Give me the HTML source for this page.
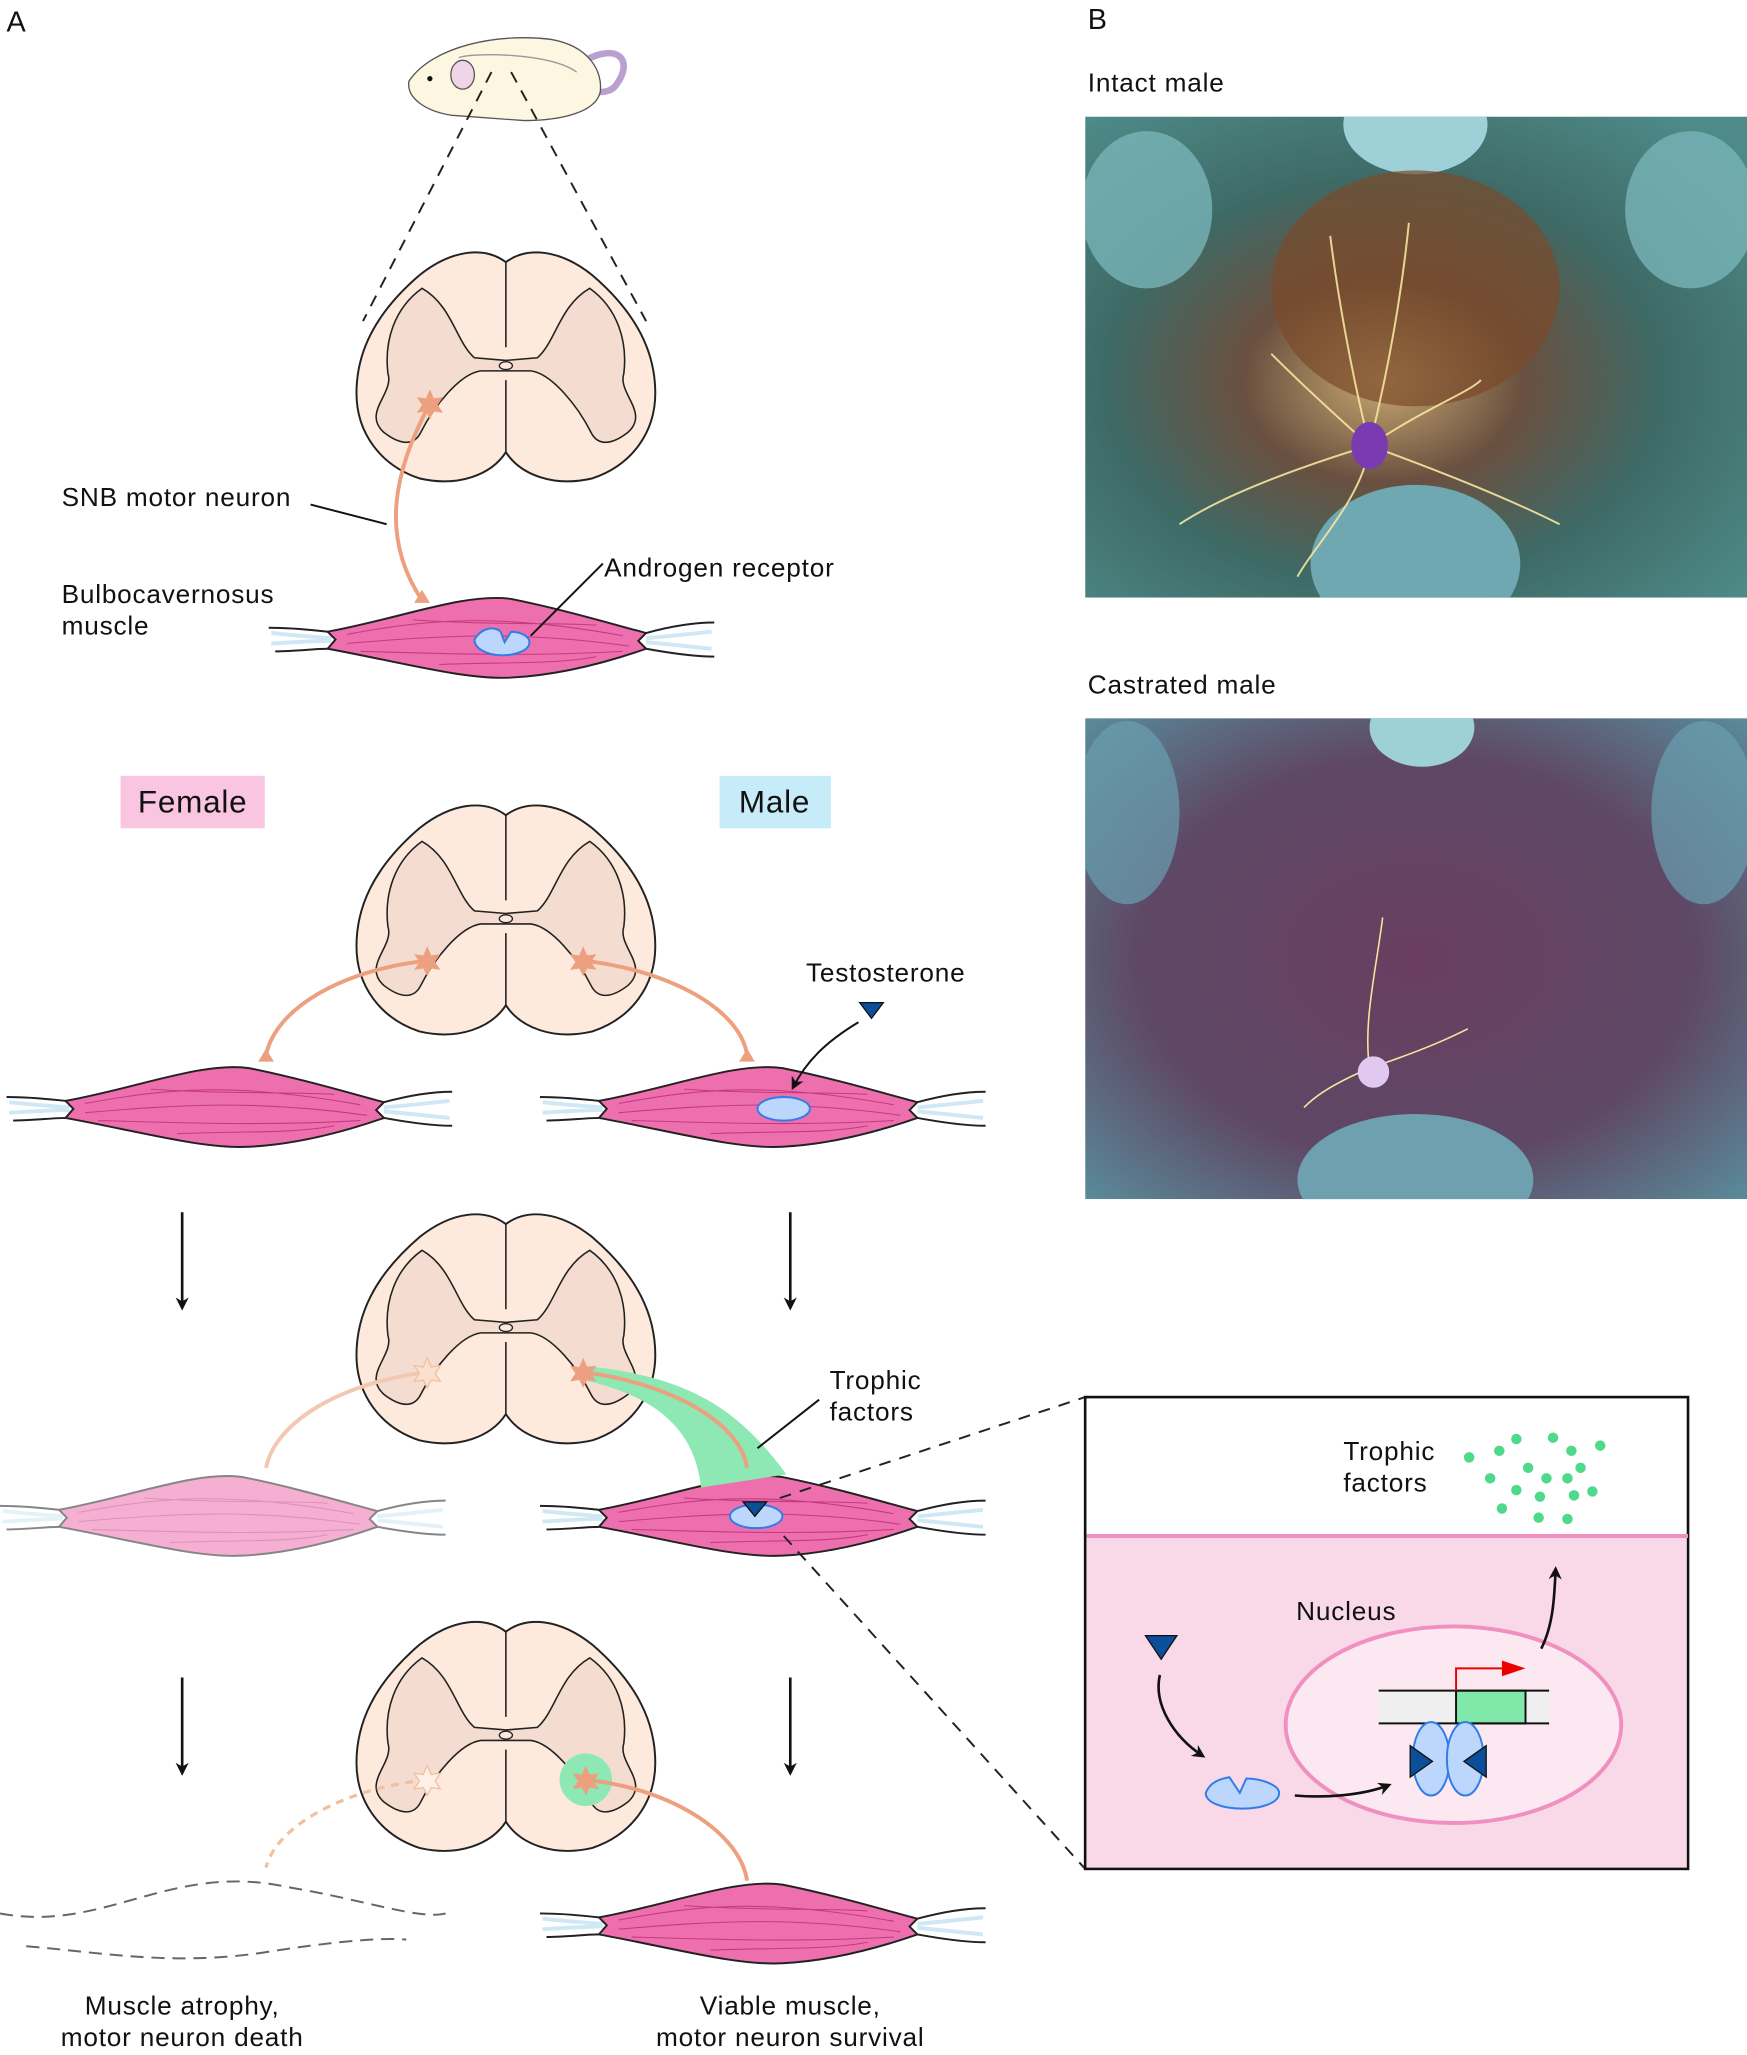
<!DOCTYPE html>
<html><head><meta charset="utf-8"><style>
html,body{margin:0;padding:0;background:#fff}
svg{display:block}
text{font-family:"Liberation Sans",sans-serif;fill:#111;letter-spacing:0.6px}
</style></head><body>
<svg width="1747" height="2055" viewBox="0 0 1333 1568" xmlns="http://www.w3.org/2000/svg">
<defs>
<clipPath id="c1"><rect x="828" y="89" width="505" height="367"/></clipPath>
<clipPath id="c2"><rect x="828" y="548" width="505" height="367"/></clipPath>
<g id="cord">
<path d="M0,7 C-16,-5 -41,-3 -66,17 C-101,47 -114,77 -114,107 C-114,137 -96,162 -66,172 C-36,179 -11,169 0,152 C11,169 36,179 66,172 C96,162 114,137 114,107 C114,77 101,47 66,17 C41,-3 16,-5 0,7Z" fill="#fdeadd" stroke="#222" stroke-width="1.5"/>
<path d="M-64,27 C-41,40 -38,68 -24,80 L0,82 L24,80 C38,68 41,40 64,27 C85,42 93,67 90,92 C85,107 110,122 93,137 C80,147 70,147 65,137 C55,117 35,92 19,90 L0,90 L-19,90 C-35,92 -55,117 -65,137 C-70,147 -80,147 -93,137 C-110,122 -85,107 -90,92 C-93,67 -85,42 -64,27Z" fill="#f4ddd0" stroke="#222" stroke-width="1.2"/>
<path d="M0,7 L0,72 M0,97 L0,152" stroke="#222" stroke-width="1.2"/>
<ellipse cx="0" cy="86" rx="5" ry="3" fill="#fdeadd" stroke="#222"/>
</g>
<g id="muscle">
<path d="M-168,-4 C-150,-2 -135,-1 -122,0 M-168,4 C-150,3 -135,2 -122,2 M118,0 C140,-2 158,-4 168,-5 M118,3 C140,5 158,7 168,8" stroke="#cfe8f4" stroke-width="3" fill="none"/>
<path d="M-170,-8 C-150,-8 -135,-6 -125,-5 M-165,10 C-150,10 -135,8 -125,8 M118,-4 C140,-10 158,-12 170,-12 M118,8 C140,12 158,14 170,14" stroke="#222" stroke-width="1.5" fill="none"/>
<path d="M-125,-5 C-70,-15 -20,-35 15,-30 C55,-22 95,-10 118,-4 L112,2 L118,8 C95,16 55,28 15,30 C-20,32 -70,18 -125,8 L-119,1Z" fill="#ee6fae" stroke="#222" stroke-width="1.5"/>
<path d="M-110,-3 C-50,-14 0,-20 100,-2 M-110,4 C-40,-2 20,-6 105,6 M-100,10 C-30,12 30,14 100,10 M-60,-14 C0,-10 50,-12 80,-10 M-40,20 C10,18 50,20 80,14" stroke="#c43a82" stroke-width="0.8" fill="none"/>
</g>
<g id="star"><path d="M0,-11 L3,-4 L10,-5 L6,1 L10,7 L3,6 L0,12 L-3,6 L-10,7 L-6,1 L-10,-5 L-3,-4Z"/></g>
<radialGradient id="p1" cx="0.45" cy="0.55" r="0.7"><stop offset="0" stop-color="#c8a870"/><stop offset="0.3" stop-color="#6a5040"/><stop offset="0.6" stop-color="#3e6a66"/><stop offset="1" stop-color="#4e8a88"/></radialGradient>
<radialGradient id="p2" cx="0.5" cy="0.5" r="0.7"><stop offset="0" stop-color="#6a3e60"/><stop offset="0.6" stop-color="#5e4866"/><stop offset="1" stop-color="#5a8a98"/></radialGradient>
<marker id="ah" markerWidth="10" markerHeight="10" refX="8" refY="5" orient="auto" markerUnits="userSpaceOnUse"><path d="M0,0 L10,5 L0,10 L3,5Z" fill="#111"/></marker>
</defs>

<text x="5" y="24" font-size="22">A</text>
<text x="830" y="22" font-size="22">B</text>

<g>
<path d="M440,50 C470,30 485,45 470,65 C465,72 455,70 450,70" stroke="#b9a0cf" stroke-width="5" fill="none"/>
<path d="M312,62 C330,35 380,25 420,30 C450,35 460,55 458,70 C455,85 430,92 400,92 L345,88 C325,85 310,75 312,62Z" fill="#fdf6e0" stroke="#555" stroke-width="1"/>
<ellipse cx="353" cy="57" rx="9" ry="11" fill="#efd5e8" stroke="#555"/>
<path d="M350,44 C360,40 420,40 440,55" stroke="#999" fill="none"/>
<circle cx="328" cy="60" r="2" fill="#111"/>
</g>
<path d="M375,55 L277,245 M390,55 L493,245" stroke="#222" stroke-width="1.5" stroke-dasharray="9,7"/>

<use href="#cord" x="386" y="193"/>
<use href="#muscle" x="375" y="487"/>
<path d="M328,308 C300,360 290,410 322,458" stroke="#eda07f" stroke-width="3" fill="none"/>
<use href="#star" x="328" y="308" fill="#eda07f"/>
<path d="M316,460 L322,450 L328,460Z" fill="#eda07f"/>
<path d="M362,488 C368,478 378,478 382,482 L385,490 L390,482 C398,482 404,486 404,490 C404,496 394,500 383,500 C370,500 362,494 362,488Z" fill="#bcd7fb" stroke="#2e7de8" stroke-width="1.5"/>
<text x="47" y="386" font-size="20">SNB motor neuron</text>
<path d="M237,385 L295,400" stroke="#111" stroke-width="1.5"/>
<text x="47" y="460" font-size="20">Bulbocavernosus</text>
<text x="47" y="484" font-size="20">muscle</text>
<text x="461" y="440" font-size="20">Androgen receptor</text>
<path d="M460,430 L405,485" stroke="#111" stroke-width="1.5"/>

<rect x="92" y="592" width="110" height="40" fill="#f9c5e0"/>
<text x="147" y="620" font-size="24" text-anchor="middle">Female</text>
<rect x="549" y="592" width="85" height="40" fill="#c6ecf9"/>
<text x="591" y="620" font-size="24" text-anchor="middle">Male</text>
<use href="#cord" x="386" y="615"/>
<use href="#muscle" x="175" y="845"/>
<use href="#muscle" x="582" y="845"/>
<path d="M326,733 C260,740 210,770 203,805" stroke="#eda07f" stroke-width="3" fill="none"/>
<path d="M445,733 C510,740 565,770 570,805" stroke="#eda07f" stroke-width="3" fill="none"/>
<use href="#star" x="326" y="733" fill="#eda07f"/><use href="#star" x="445" y="733" fill="#eda07f"/>
<path d="M197,810 L203,800 L209,810Z M564,810 L570,800 L576,810Z" fill="#eda07f"/>
<ellipse cx="598" cy="846" rx="20" ry="9" fill="#bcd7fb" stroke="#2e7de8" stroke-width="1.5"/>
<text x="615" y="749" font-size="20">Testosterone</text>
<path d="M656,765 L674,765 L665,777Z" fill="#0b4f9a" stroke="#111"/>
<path d="M655,780 C630,795 615,810 605,830" stroke="#111" stroke-width="1.5" fill="none" marker-end="url(#ah)"/>

<g stroke="#111" stroke-width="2" marker-end="url(#ah)">
<path d="M139,925 L139,998"/><path d="M603,925 L603,998"/>
<path d="M139,1280 L139,1353"/><path d="M603,1280 L603,1353"/>
</g>

<use href="#cord" x="386" y="927"/>
<use href="#muscle" x="170" y="1157" opacity="0.55"/>
<use href="#muscle" x="582" y="1157"/>
<path d="M445,1042 C520,1050 560,1070 600,1125 L535,1135 C530,1090 500,1065 445,1053Z" fill="#8de8b4"/>
<path d="M326,1047 C260,1055 210,1085 203,1120" stroke="#f2c8b0" stroke-width="3" fill="none"/>
<path d="M445,1047 C510,1055 565,1085 570,1120" stroke="#eda07f" stroke-width="3" fill="none"/>
<use href="#star" x="326" y="1047" fill="#fbe0cf" stroke="#f2c0a0"/><use href="#star" x="445" y="1047" fill="#eda07f"/>
<ellipse cx="577" cy="1157" rx="20" ry="9" fill="#bcd7fb" stroke="#2e7de8" stroke-width="1.5"/>
<path d="M567,1146 L585,1146 L576,1157Z" fill="#0b4f9a" stroke="#111"/>
<text x="633" y="1060" font-size="20">Trophic</text>
<text x="633" y="1084" font-size="20">factors</text>
<path d="M625,1068 L578,1105" stroke="#111" stroke-width="1.5"/>
<path d="M595,1143 L828,1066 M598,1172 L828,1426" stroke="#222" stroke-width="1.5" stroke-dasharray="9,7"/>

<use href="#cord" x="386" y="1238"/>
<circle cx="447" cy="1358" r="20" fill="#8de8b4"/>
<path d="M326,1358 C260,1365 210,1395 203,1425" stroke="#f2c0a0" stroke-width="2.5" stroke-dasharray="6,5" fill="none"/>
<path d="M447,1358 C515,1365 565,1400 570,1435" stroke="#eda07f" stroke-width="3" fill="none"/>
<use href="#star" x="326" y="1358" fill="#fdf0e6" stroke="#f2c0a0"/><use href="#star" x="447" y="1358" fill="#eda07f"/>
<path d="M0,1460 C80,1475 130,1420 220,1440 C280,1450 320,1465 340,1460 M20,1485 C80,1490 130,1500 200,1490 C250,1482 290,1478 310,1480" stroke="#666" stroke-width="1.5" stroke-dasharray="10,6" fill="none"/>
<use href="#muscle" x="582" y="1468"/>
<text x="139" y="1537" font-size="20" text-anchor="middle">Muscle atrophy,</text>
<text x="139" y="1561" font-size="20" text-anchor="middle">motor neuron death</text>
<text x="603" y="1537" font-size="20" text-anchor="middle">Viable muscle,</text>
<text x="603" y="1561" font-size="20" text-anchor="middle">motor neuron survival</text>

<text x="830" y="70" font-size="20">Intact male</text>
<g clip-path="url(#c1)">
<rect x="828" y="89" width="505" height="367" fill="url(#p1)"/>
<ellipse cx="1080" cy="95" rx="55" ry="38" fill="#9ed0d8"/>
<ellipse cx="1080" cy="430" rx="80" ry="60" fill="#6fa8b0"/>
<ellipse cx="875" cy="160" rx="50" ry="60" fill="#78b4b8" opacity="0.8"/>
<ellipse cx="1290" cy="160" rx="50" ry="60" fill="#78b4b8" opacity="0.8"/>
<ellipse cx="1080" cy="220" rx="110" ry="90" fill="#7a4a2a" opacity="0.7"/>
<g stroke="#f5e6a0" stroke-width="1.5" fill="none" opacity="0.9">
<path d="M1045,340 C1030,280 1020,220 1015,180 M1045,340 C1060,280 1070,220 1075,170 M1045,340 C980,360 930,380 900,400 M1045,340 C1100,360 1150,380 1190,400 M1045,340 C1000,300 980,280 970,270 M1045,340 C1090,310 1120,300 1130,290 M1045,340 C1040,380 1000,420 990,440"/>
</g>
<ellipse cx="1045" cy="340" rx="14" ry="18" fill="#7a3ab0"/>
</g>
<text x="830" y="529" font-size="20">Castrated male</text>
<g clip-path="url(#c2)">
<rect x="828" y="548" width="505" height="367" fill="url(#p2)"/>
<ellipse cx="1085" cy="555" rx="40" ry="30" fill="#9ed0d8"/>
<ellipse cx="1080" cy="900" rx="90" ry="50" fill="#6fa0b0"/>
<ellipse cx="860" cy="620" rx="40" ry="70" fill="#6aa0b0" opacity="0.7"/>
<ellipse cx="1300" cy="620" rx="40" ry="70" fill="#6aa0b0" opacity="0.7"/>
<path d="M1045,815 C1040,780 1050,740 1055,700 M1045,815 C1010,830 1000,840 995,845 M1045,815 C1090,800 1110,790 1120,785" stroke="#f5e6a0" stroke-width="1.2" fill="none"/>
<ellipse cx="1048" cy="818" rx="12" ry="12" fill="#e0c8f0"/>
</g>

<g>
<rect x="828" y="1066" width="460" height="360" fill="#fff" stroke="#111" stroke-width="2"/>
<rect x="829" y="1172" width="458" height="253" fill="#f9d8e8"/>
<path d="M829,1172 L1288,1172" stroke="#ef90c0" stroke-width="3"/>
<text x="1025" y="1114" font-size="20">Trophic</text>
<text x="1025" y="1138" font-size="20">factors</text>
<g fill="#4fd98a">
<circle cx="1121" cy="1112" r="4"/><circle cx="1144" cy="1107" r="4"/><circle cx="1157" cy="1098" r="4"/><circle cx="1185" cy="1097" r="4"/><circle cx="1199" cy="1107" r="4"/><circle cx="1221" cy="1103" r="4"/>
<circle cx="1137" cy="1128" r="4"/><circle cx="1166" cy="1120" r="4"/><circle cx="1180" cy="1128" r="4"/><circle cx="1196" cy="1128" r="4"/><circle cx="1206" cy="1120" r="4"/>
<circle cx="1157" cy="1137" r="4"/><circle cx="1175" cy="1142" r="4"/><circle cx="1201" cy="1141" r="4"/><circle cx="1215" cy="1138" r="4"/><circle cx="1146" cy="1151" r="4"/><circle cx="1174" cy="1158" r="4"/><circle cx="1196" cy="1159" r="4"/>
</g>
<text x="989" y="1236" font-size="20">Nucleus</text>
<ellipse cx="1109" cy="1316" rx="128" ry="75" fill="#fce8f0" stroke="#ef90c0" stroke-width="3"/>
<rect x="1052" y="1290" width="130" height="25" fill="#efefef"/>
<rect x="1111" y="1290" width="53" height="25" fill="#80e8a8" stroke="#111" stroke-width="1.5"/>
<path d="M1052,1290 L1182,1290 M1052,1315 L1182,1315" stroke="#111" stroke-width="1.5"/>
<path d="M1111,1290 L1111,1273 L1148,1273" stroke="#e00" stroke-width="1.5" fill="none"/>
<path d="M1146,1267 L1164,1273 L1146,1279Z" fill="#e00"/>
<ellipse cx="1092" cy="1342" rx="14" ry="28" fill="#bcd7fb" stroke="#2e7de8" stroke-width="1.5"/>
<ellipse cx="1118" cy="1342" rx="14" ry="28" fill="#bcd7fb" stroke="#2e7de8" stroke-width="1.5"/>
<path d="M1076,1332 L1093,1344 L1076,1356Z M1134,1332 L1117,1344 L1134,1356Z" fill="#0b4f9a" stroke="#111"/>
<path d="M874,1248 L898,1248 L886,1266Z" fill="#0b4f9a" stroke="#111"/>
<path d="M885,1278 C880,1300 895,1325 918,1340" stroke="#111" stroke-width="2" fill="none" marker-end="url(#ah)"/>
<path d="M920,1368 C924,1358 934,1357 938,1356 L946,1368 L951,1357 C962,1357 976,1362 976,1368 C976,1376 962,1380 948,1380 C934,1380 920,1376 920,1368Z" fill="#bcd7fb" stroke="#2e7de8" stroke-width="1.5"/>
<path d="M988,1370 C1010,1372 1040,1370 1060,1362" stroke="#111" stroke-width="2" fill="none" marker-end="url(#ah)"/>
<path d="M1176,1258 C1185,1240 1186,1220 1187,1197" stroke="#111" stroke-width="2" fill="none" marker-end="url(#ah)"/>
</g>
</svg>
</body></html>
